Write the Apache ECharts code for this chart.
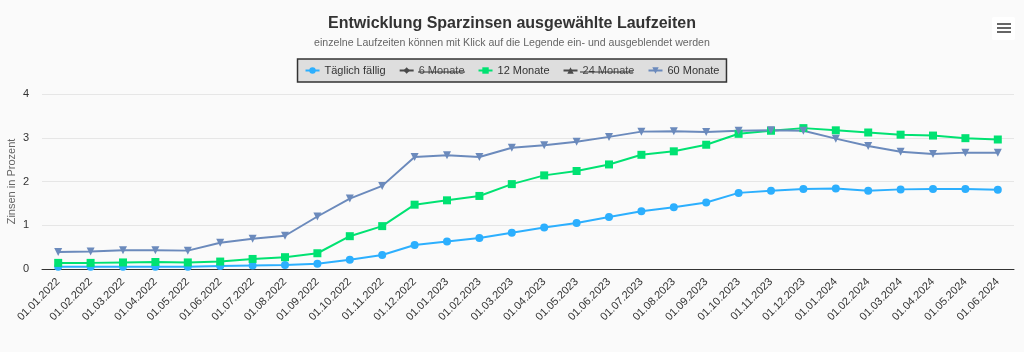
<!DOCTYPE html>
<html>
<head>
<meta charset="utf-8">
<script src="https://cdn.jsdelivr.net/npm/echarts@6/dist/echarts.min.js"></script>
<style>
    html, body { margin: 0; padding: 0; background: #fafafa; }
    #myChart { width: 1024px; height: 352px; }
</style>
</head>
<body>
<div id="myChart"></div>
<script>
    // Monate (Stichtag jeweils der Erste)
    let months = ['01.01.2022', '01.02.2022', '01.03.2022', '01.04.2022', '01.05.2022', '01.06.2022',
        '01.07.2022', '01.08.2022', '01.09.2022', '01.10.2022', '01.11.2022', '01.12.2022',
        '01.01.2023', '01.02.2023', '01.03.2023', '01.04.2023', '01.05.2023', '01.06.2023',
        '01.07.2023', '01.08.2023', '01.09.2023', '01.10.2023', '01.11.2023', '01.12.2023',
        '01.01.2024', '01.02.2024', '01.03.2024', '01.04.2024', '01.05.2024', '01.06.2024'];

    let taeglich = [0.05, 0.05, 0.05, 0.05, 0.05, 0.07, 0.08, 0.09, 0.12, 0.21,
        0.32, 0.55, 0.63, 0.71, 0.83, 0.95, 1.05, 1.19, 1.32, 1.41,
        1.52, 1.74, 1.79, 1.83, 1.84, 1.79, 1.82, 1.83, 1.83, 1.81];
    // ausgeblendet in der Vorlage
    let monate6 = [];
    let monate12 = [0.14, 0.14, 0.15, 0.16, 0.15, 0.17, 0.23, 0.27, 0.36, 0.75,
        0.98, 1.47, 1.57, 1.67, 1.94, 2.14, 2.24, 2.39, 2.61, 2.69,
        2.84, 3.09, 3.16, 3.22, 3.17, 3.12, 3.07, 3.05, 2.99, 2.96];
    // ausgeblendet in der Vorlage
    let monate24 = [];
    let monate60 = [0.39, 0.40, 0.43, 0.43, 0.42, 0.60, 0.69, 0.76, 1.20, 1.61,
        1.90, 2.56, 2.60, 2.56, 2.77, 2.83, 2.91, 3.02, 3.14, 3.15,
        3.13, 3.16, 3.17, 3.16, 2.98, 2.81, 2.68, 2.63, 2.66, 2.66];

    let yTicks = [0, 1, 2, 3, 4];

    let font = 'Liberation Sans, Arial, sans-serif';

    function makeSeries(name, data, color, symbol, size, rotate) {
        return {
            name: name,
            type: 'line',
            data: data,
            symbol: symbol,
            symbolSize: size,
            symbolRotate: rotate || 0,
            showAllSymbol: true,
            lineStyle: { width: 2, color: color },
            itemStyle: { color: color },
            emphasis: { disabled: true }
        };
    }

    let option = {
        backgroundColor: '#fafafa',
        animation: false,
        textStyle: { fontFamily: font },
        title: {
            text: 'Entwicklung Sparzinsen ausgewählte Laufzeiten',
            subtext: 'einzelne Laufzeiten können mit Klick auf die Legende ein- und ausgeblendet werden',
            left: 'center',
            top: 11,
            itemGap: 6,
            textStyle: { fontSize: 16, fontWeight: 'bold', color: '#333', fontFamily: font },
            subtextStyle: { fontSize: 10.6, color: '#666', fontFamily: font }
        },
        legend: {
            top: 59,
            left: 'center',
            backgroundColor: '#dedede',
            borderColor: '#333',
            borderWidth: 1.5,
            borderRadius: 0,
            padding: [6, 7, 6, 7],
            itemGap: 13,
            itemWidth: 14,
            itemHeight: 8,
            inactiveColor: '#4a4a4a',
            inactiveBorderColor: '#4a4a4a',
            lineStyle: { inactiveColor: '#4a4a4a', inactiveWidth: 2 },
            textStyle: { fontSize: 11, color: '#333', fontFamily: font },
            data: ['Täglich fällig', '6 Monate', '12 Monate', '24 Monate', '60 Monate'],
            selected: { '6 Monate': false, '24 Monate': false }
        },
        grid: { left: 42, right: 10, top: 94, bottom: 83, outerBoundsMode: 'none' },
        xAxis: {
            type: 'category',
            data: months,
            boundaryGap: true,
            axisLine: { lineStyle: { color: '#333', width: 1 } },
            axisTick: { show: false },
            axisLabel: { rotate: 45, fontSize: 11, color: '#333', margin: 11, interval: 0, fontFamily: font }
        },
        yAxis: {
            type: 'value',
            min: yTicks[0],
            max: yTicks[yTicks.length - 1],
            interval: 1,
            name: 'Zinsen in Prozent',
            nameLocation: 'middle',
            nameRotate: 90,
            nameGap: 25,
            nameMoveOverlap: false,
            nameTextStyle: { fontSize: 11, color: '#666', fontFamily: font },
            axisLine: { show: false },
            axisTick: { show: false },
            axisLabel: { fontSize: 11, color: '#333', margin: 13, fontFamily: font },
            splitLine: { lineStyle: { color: '#e6e6e6' } }
        },
        graphic: [
            // Menü-Symbol oben rechts
            { type: 'rect', shape: { x: 992, y: 17, width: 23, height: 23, r: 2 }, style: { fill: '#fff' } },
            { type: 'rect', shape: { x: 997, y: 23, width: 14, height: 2 }, style: { fill: '#666' } },
            { type: 'rect', shape: { x: 997, y: 27, width: 14, height: 2 }, style: { fill: '#666' } },
            { type: 'rect', shape: { x: 997, y: 31, width: 14, height: 2 }, style: { fill: '#666' } },
            // durchgestrichene Legendeneinträge
            { type: 'line', z: 100, shape: { x1: 418, y1: 72, x2: 465, y2: 72 }, style: { stroke: '#333', lineWidth: 1 } },
            { type: 'line', z: 100, shape: { x1: 580, y1: 72, x2: 633, y2: 72 }, style: { stroke: '#333', lineWidth: 1 } }
        ],
        series: [
            makeSeries('Täglich fällig', taeglich, '#2caffe', 'circle', 8),
            makeSeries('6 Monate', monate6, '#544fc5', 'diamond', 8),
            makeSeries('12 Monate', monate12, '#00e272', 'rect', 8),
            makeSeries('24 Monate', monate24, '#fe6a35', 'triangle', 8),
            makeSeries('60 Monate', monate60, '#6b8abc', 'triangle', 8, 180)
        ]
    };

    let myChart = echarts.init(document.getElementById('myChart'));
    myChart.setOption(option);
</script>
</body>
</html>
